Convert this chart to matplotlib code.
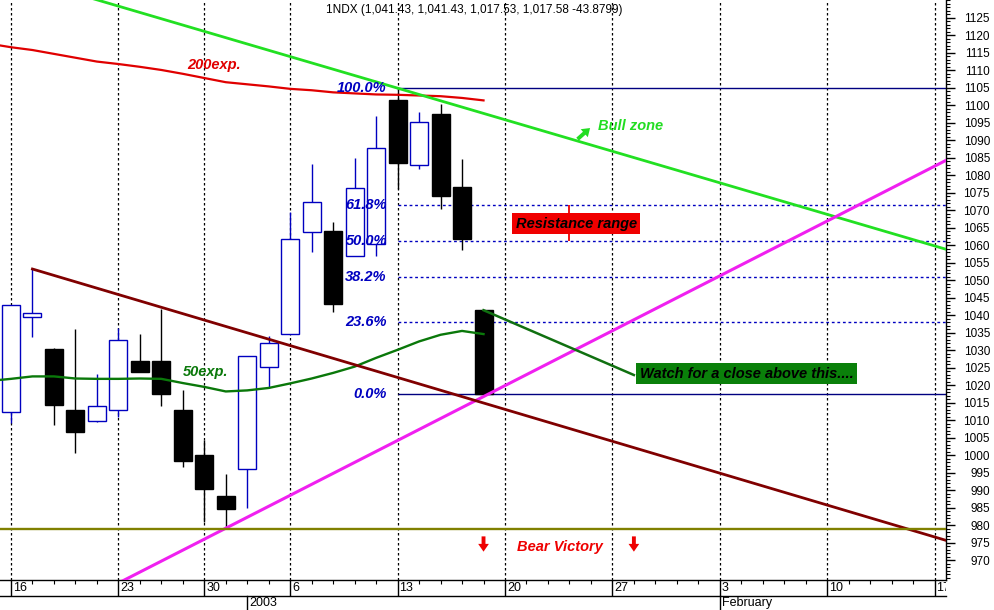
import numpy as np
import matplotlib
matplotlib.use('Agg')
import matplotlib.pyplot as plt
from matplotlib.transforms import Bbox, TransformedBbox

plt.rcParams['font.family'] = ['Liberation Sans', 'DejaVu Sans']

################### DATA ###################

# NDX daily bars, Dec 16 2002 .. Jan 17 2003 (trading day index 0..22)
dates = ['2002-12-16', '2002-12-17', '2002-12-18', '2002-12-19', '2002-12-20',
         '2002-12-23', '2002-12-24', '2002-12-26', '2002-12-27', '2002-12-30',
         '2002-12-31', '2003-01-02', '2003-01-03', '2003-01-06', '2003-01-07',
         '2003-01-08', '2003-01-09', '2003-01-10', '2003-01-13', '2003-01-14',
         '2003-01-15', '2003-01-16', '2003-01-17']
opens = [1012.3, 1039.4, 1030.3, 1012.9, 1009.8, 1012.8, 1026.9, 1026.9, 1012.9, 1000.0,
         988.3, 995.9, 1025.1, 1034.6, 1063.7, 1064.2, 1057.0, 1060.3, 1101.6, 1082.9,
         1097.5, 1076.6, 1041.43]
highs = [1043.0, 1053.2, 1030.5, 1036.1, 1023.1, 1036.3, 1034.6, 1041.7, 1018.6, 1004.3,
         994.6, 1028.3, 1034.1, 1069.5, 1083.2, 1066.5, 1084.9, 1097.0, 1104.9, 1098.0,
         1100.4, 1084.6, 1041.43]
lows = [1009.2, 1033.9, 1008.6, 1000.6, 1009.6, 1011.0, 1023.8, 1013.9, 996.7, 981.0,
        979.1, 985.0, 1019.1, 1034.5, 1058.0, 1041.0, 1057.0, 1057.0, 1076.0, 1081.7,
        1070.4, 1058.5, 1017.53]
closes = [1042.9, 1040.6, 1014.3, 1006.7, 1014.0, 1032.8, 1023.9, 1017.4, 998.4, 990.4,
          984.7, 1028.3, 1032.0, 1061.7, 1072.4, 1043.1, 1076.3, 1087.7, 1083.6, 1095.2,
          1074.2, 1061.9, 1017.58]

# exponential averages, starting one bar before Dec 16 (index -1)
ema_days = list(range(-1, 23))
ema200 = [1117.6, 1116.6, 1115.8, 1114.7, 1113.6, 1112.5, 1111.8, 1111.0, 1110.1, 1109.0,
          1107.8, 1106.6, 1106.0, 1105.4, 1104.7, 1104.3, 1103.7, 1103.4, 1103.1, 1103.0,
          1102.8, 1102.6, 1102.1, 1101.4]
ema50 = [1021.2, 1021.8, 1022.5, 1022.5, 1021.9, 1021.8, 1021.8, 1021.9, 1021.8, 1020.6,
         1019.5, 1018.2, 1018.5, 1019.2, 1020.5, 1021.9, 1023.5, 1025.3, 1027.8, 1030.1,
         1032.5, 1034.4, 1035.5, 1034.6]

# hand drawn trendlines: two anchor points each (day index, value)
bull_line = ([18, 43], [1104.9, 1059.8])
support_line = ([10, 43], [979.1, 1082.6])
bear_line = ([1, 43], [1053.2, 976.6])
watch_line = ([22, 29], [1041.43, 1022.9])
bear_level = 979.0

# fibonacci retracement Jan 13 high -> Jan 17 low
fib_high = 1104.9
fib_low = 1017.53
fib_pcts = [1.0, 0.618, 0.5, 0.382, 0.236, 0.0]
fib_labels = ['100.0%', '61.8%', '50.0%', '38.2%', '23.6%', '0.0%']

# date axis
week_days = [0, 5, 9, 13, 18, 23, 28, 33, 38, 43]
week_labels = ['16', '23', '30', '6', '13', '20', '27', '3', '10', '17']
period_days = [11, 33]
period_labels = ['2003', 'February']

title = '1NDX (1,041.43, 1,041.43, 1,017.53, 1,017.58 -43.8799)'

################### PLOT ###################

fig = plt.figure(figsize=(9.94, 6.10), dpi=100)
ax = fig.add_axes([0, 30 / 610, 946 / 994, 580 / 610])
xmin, xmax = -0.51, 43.53
ax.set_xlim(xmin, xmax)
ax.set_ylim(964.3, 1130.1)

blue = '#0000c0'

# weekly vertical grid
for d in week_days:
    ax.axvline(d, color='black', lw=0.9, ls=(0, (2, 2)), zorder=1)

# candles
w = 0.84
for i in range(len(dates)):
    o, h, l, c = opens[i], highs[i], lows[i], closes[i]
    up = c >= o
    col = blue if up else 'black'
    ax.vlines(i, l, h, color=col, lw=1, zorder=3)
    ax.bar(i, abs(c - o), bottom=min(o, c), width=w,
           facecolor='white' if up else 'black', edgecolor=col, lw=1, zorder=4)

# fib levels
rng = fib_high - fib_low
for p, lab in zip(fib_pcts, fib_labels):
    lvl = fib_low + p * rng
    solid = p in (0.0, 1.0)
    ax.hlines(lvl, 18, xmax, color='#000080' if solid else blue, lw=1,
              ls='-' if solid else (0, (2, 2)), zorder=2)
    ax.text(17.5, lvl, lab, color=blue, fontsize=10.5, fontweight='bold',
            fontstyle='italic', ha='right', va='center', zorder=6)

# averages
ax.plot(ema_days, ema200, color='#e00000', lw=1.6, zorder=5)
ax.plot(ema_days, ema50, color='#0a780a', lw=1.7, zorder=5)

# trendlines
xx = np.array([xmin - 1, xmax + 1])
k, b = np.polyfit(*bull_line, 1)
ax.plot(xx, k * xx + b, color='#22e022', lw=2, zorder=5)
k, b = np.polyfit(*support_line, 1)
ax.plot(xx, k * xx + b, color='#f020f0', lw=2.2, zorder=5)
k, b = np.polyfit(*bear_line, 1)
xb = np.array([bear_line[0][0], xmax + 1])
ax.plot(xb, k * xb + b, color='#800000', lw=2, zorder=5)
ax.plot(*watch_line, color='#107010', lw=1.8, zorder=5)
ax.axhline(bear_level, color='#808000', lw=1.7, zorder=5)

# annotations
it = dict(fontsize=10.5, fontweight='bold', fontstyle='italic', va='center', zorder=7)
ax.text(8.19, 1111.6, '200exp.', color='#e00000', **it)
ax.text(8.0, 1023.8, '50exp.', color='#0a780a', **it)
ax.text(27.33, 1094.1, 'Bull zone', color='#22dd22', **it)
ax.text(23.56, 973.7, 'Bear Victory', color='#ee0000', **it)
ax.text(23.5, 1066.1, 'Resistance range', color='black',
        bbox=dict(facecolor='#f00000', edgecolor='none', pad=2.5), **it)
ax.text(29.28, 1023.2, 'Watch for a close above this....', color='black',
        bbox=dict(facecolor='#0a800a', edgecolor='none', pad=2.5), **it)
ax.vlines(26, fib_low + 0.5 * rng, fib_low + 0.618 * rng, color='#f00000', lw=1.3, zorder=6)

arrow = dict(arrowstyle='simple,head_width=0.55,head_length=0.4,tail_width=0.2',
             lw=0, shrinkA=0, shrinkB=0, mutation_scale=14)
for d in (22, 29):
    ax.annotate('', xy=(d, 972.4), xytext=(0, 11), textcoords='offset points',
                arrowprops=dict(color='#ee0000', **arrow), zorder=7)
ax.annotate('', xy=(26.96, 1093.5), xytext=(-9, -8), textcoords='offset points',
            arrowprops=dict(color='#22dd22', **arrow), zorder=7)

ax.text(0.501, 1 - 10 / 580, title, transform=ax.transAxes, ha='center', va='center',
        fontsize=8.5)

# axes styling
for s in ('left', 'top'):
    ax.spines[s].set_visible(False)
ax.spines['right'].set_linewidth(1)
ax.spines['bottom'].set_linewidth(1)

ax.yaxis.tick_right()
ax.set_yticks(np.arange(970, 1126, 5))
ax.set_yticks(np.arange(965, 1131, 1), minor=True)
ax.tick_params(axis='y', which='major', direction='out', length=6.5, width=1, pad=25.2,
               labelsize=8.5)
ax.tick_params(axis='y', which='minor', direction='out', length=2.9, width=0.8)
for lab in ax.get_yticklabels():
    lab.set_ha('right')

ax.set_xticks(week_days)
ax.set_xticklabels([])
ax.set_xticks(np.arange(0, 44, 1), minor=True)
ax.tick_params(axis='x', which='major', direction='out', length=11.5, width=1)
ax.tick_params(axis='x', which='minor', direction='out', length=2.9, width=0.8)

xt = ax.get_xaxis_transform()
clip = TransformedBbox(Bbox([[0, -0.1], [1, 0]]), ax.transAxes)
for d, lab in zip(week_days, week_labels):
    t = ax.text(d + 0.09, -0.004, lab, transform=xt, fontsize=9, ha='left', va='top',
                clip_on=True)
    t.set_clip_box(clip)
ax.plot([xmin, xmax], [-16 / 580] * 2, transform=xt, color='black', lw=1, clip_on=False)
for d, lab in zip(period_days, period_labels):
    ax.plot([d, d], [-16 / 580, -31 / 580], transform=xt, color='black', lw=1, clip_on=False)
    ax.text(d + 0.09, -17 / 580, lab, transform=xt, fontsize=9, ha='left', va='top')

fig.savefig('out.png', dpi=100)
